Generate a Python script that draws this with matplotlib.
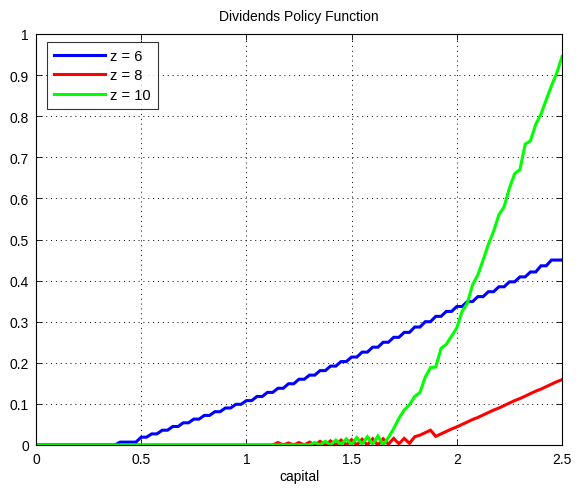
import numpy as np
import matplotlib
matplotlib.use("Agg")
import matplotlib.pyplot as plt

plt.rcParams['font.family'] = ['Liberation Sans', 'DejaVu Sans']

# capital grid (0 to 2.5, step 0.025)
capital = [round(0.025 * i, 3) for i in range(101)]

# z = 6 (blue)
div_z6 = ([0.0] * 16 +
          [0.007, 0.007, 0.007, 0.007,
           0.019, 0.019, 0.027, 0.027, 0.036, 0.036, 0.045, 0.045,
           0.054, 0.054, 0.063, 0.063, 0.072, 0.072, 0.081, 0.081,
           0.090, 0.090, 0.099, 0.099, 0.108, 0.108, 0.118, 0.118,
           0.128, 0.128, 0.138, 0.138, 0.149, 0.149, 0.160, 0.160,
           0.170, 0.170, 0.181, 0.181, 0.192, 0.192, 0.203, 0.203,
           0.214, 0.214, 0.226, 0.226, 0.238, 0.238, 0.250, 0.250,
           0.262, 0.262, 0.274, 0.274, 0.287, 0.287, 0.300, 0.300,
           0.313, 0.313, 0.325, 0.325, 0.337, 0.337, 0.349, 0.349,
           0.361, 0.361, 0.373, 0.373, 0.385, 0.385, 0.397, 0.397,
           0.409, 0.409, 0.421, 0.421, 0.436, 0.436, 0.450, 0.450,
           0.450])

# z = 8 (red)
div_z8 = ([0.0] * 46 +
          [0.006, 0.0, 0.005, 0.0, 0.006, 0.0, 0.007, 0.0,
           0.009, 0.0, 0.010, 0.0, 0.012, 0.0, 0.013, 0.0,
           0.014, 0.0, 0.015, 0.0, 0.015, 0.002, 0.016, 0.003,
           0.016, 0.004, 0.020, 0.024, 0.030, 0.036, 0.021, 0.027,
           0.033, 0.039, 0.044, 0.050, 0.056, 0.062, 0.067, 0.073,
           0.079, 0.085, 0.090, 0.096, 0.102, 0.108, 0.113, 0.119,
           0.125, 0.131, 0.136, 0.142, 0.148, 0.154, 0.159])

# z = 10 (green)
div_z10 = ([0.0] * 52 +
           [0.0, 0.006, 0.0, 0.009, 0.0, 0.012, 0.001, 0.015,
            0.001, 0.018, 0.002, 0.020, 0.002, 0.022, 0.0,
            0.018, 0.040, 0.065, 0.085, 0.098, 0.118, 0.128, 0.165,
            0.188, 0.190, 0.235, 0.245, 0.265, 0.285, 0.325, 0.345,
            0.390, 0.414, 0.450, 0.488, 0.520, 0.560, 0.580, 0.625,
            0.660, 0.670, 0.732, 0.740, 0.780, 0.805, 0.840, 0.874,
            0.905, 0.945])

series_labels = ['z = 6', 'z = 8', 'z = 10']
series_colors = ['#0000ff', '#ff0000', '#00ff00']

xticks = [0, 0.5, 1, 1.5, 2, 2.5]
xticklabels = ['0', '0.5', '1', '1.5', '2', '2.5']
yticks = [0, 0.1, 0.2, 0.3, 0.4, 0.5, 0.6, 0.7, 0.8, 0.9, 1]
yticklabels = ['0', '0.1', '0.2', '0.3', '0.4', '0.5', '0.6', '0.7', '0.8', '0.9', '1']

fig = plt.figure(figsize=(5.76, 4.89), dpi=100)
ax = fig.add_axes([36 / 576, 1 - 446 / 489, 526 / 576, 411 / 489])

for vals, lab, col in zip([div_z6, div_z8, div_z10], series_labels, series_colors):
    ax.plot(capital, vals, color=col, lw=2.2, label=lab, solid_joinstyle='miter')

ax.set_xlim(0, 2.5)
ax.set_ylim(0, 1)
ax.set_xticks(xticks)
ax.set_xticklabels(xticklabels)
ax.set_yticks(yticks)
ax.set_yticklabels(yticklabels)
ax.tick_params(direction='in', top=True, right=True, labelsize=10, length=4,
               width=0.6, pad=5)
ax.grid(True, linestyle=(0, (1, 4)), color='black', lw=0.7)
for s in ax.spines.values():
    s.set_linewidth(0.8)

ax.set_title('Dividends Policy Function', fontsize=10, pad=10)
ax.set_xlabel('capital', fontsize=10, labelpad=2)

leg = ax.legend(loc='upper left', bbox_to_anchor=(11 / 526, 1 - 7.5 / 411),
                fontsize=10.5, frameon=True, fancybox=False,
                edgecolor='black', borderaxespad=0, handlelength=3.5,
                labelspacing=0.38, borderpad=0.5, handletextpad=0.35)
leg.get_frame().set_linewidth(0.8)

fig.savefig('out.png', dpi=100)
